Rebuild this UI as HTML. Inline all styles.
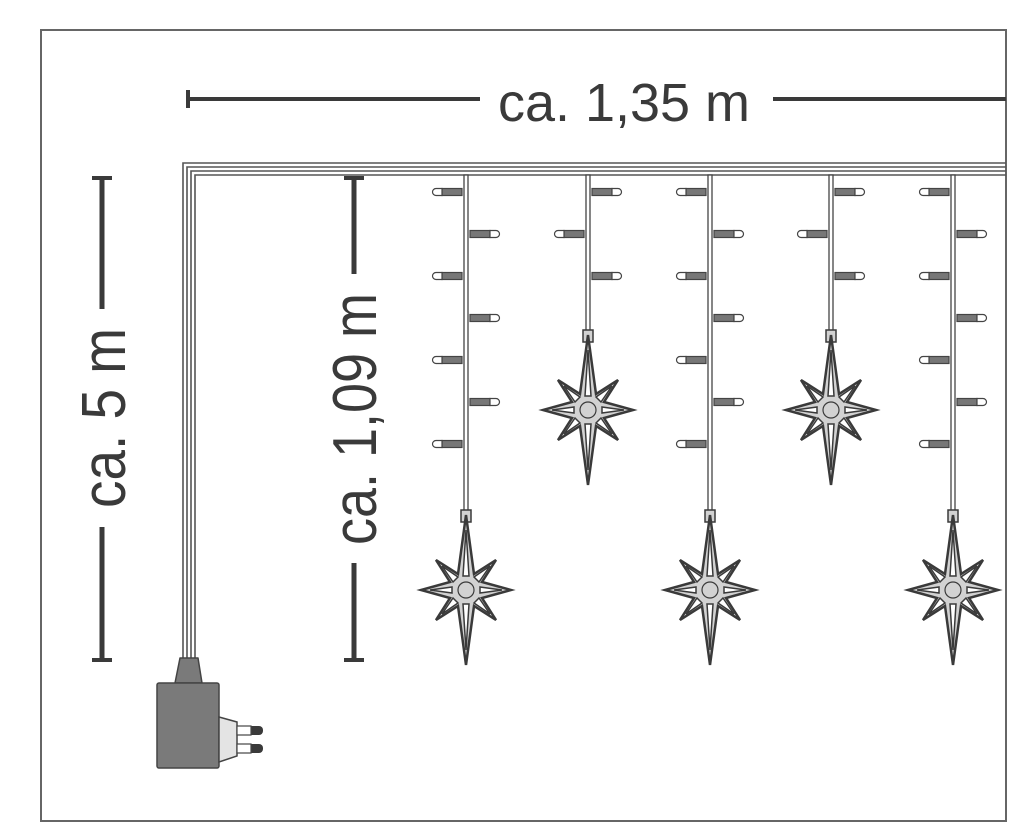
<!DOCTYPE html>
<html><head><meta charset="utf-8"><style>
html,body{margin:0;padding:0;background:#fff;}
svg{display:block;}
text{font-family:"Liberation Sans",sans-serif;fill:#3a3a3a;}
</style></head><body>
<svg width="1034" height="836" viewBox="0 0 1034 836" xmlns="http://www.w3.org/2000/svg">
<defs>
<g id="star">
  <rect x="-5" y="-80" width="10" height="12" fill="#d2d2d2" stroke="#3a3a3a" stroke-width="1.5"/>
  <polygon points="0,-75 8,-16 30,-30 16,-8 45,0 16,8 30,30 8,16 0,75 -8,16 -30,30 -16,8 -45,0 -16,-8 -30,-30 -8,-16" fill="#d2d2d2" stroke="#3a3a3a" stroke-width="2.5" stroke-linejoin="miter"/>
  <g fill="#fff" stroke="#3a3a3a" stroke-width="1.5">
    <polygon points="0,-60 3,-14 -3,-14"/>
    <polygon points="0,60 3,14 -3,14"/>
    <polygon points="-36,0 -14,3 -14,-3"/>
    <polygon points="36,0 14,3 14,-3"/>
    <polygon points="24,-24 8,-13 13,-8"/>
    <polygon points="-24,-24 -8,-13 -13,-8"/>
    <polygon points="24,24 8,13 13,8"/>
    <polygon points="-24,24 -8,13 -13,8"/>
  </g>
  <circle r="8" fill="#d2d2d2" stroke="#3a3a3a" stroke-width="1.2"/>
</g>
<g id="bR">
  <rect x="2" y="-3.5" width="20" height="7" fill="#777" stroke="#444" stroke-width="1.2"/>
  <path d="M22,-3.5 L28,-3.5 A3.5,3.5 0 0 1 28,3.5 L22,3.5 Z" fill="#fff" stroke="#444" stroke-width="1.2"/>
</g>
<g id="bL">
  <use href="#bR" transform="scale(-1,1)"/>
</g>
</defs>

<rect x="41" y="30" width="965" height="791" fill="none" stroke="#666" stroke-width="2"/>

<line x1="188" y1="99" x2="480" y2="99" stroke="#3a3a3a" stroke-width="4"/>
<line x1="188" y1="90" x2="188" y2="108" stroke="#3a3a3a" stroke-width="4"/>
<line x1="773" y1="99" x2="1006" y2="99" stroke="#3a3a3a" stroke-width="4"/>
<text x="498" y="121" font-size="54" textLength="252" lengthAdjust="spacingAndGlyphs">ca. 1,35 m</text>

<line x1="102" y1="178" x2="102" y2="309" stroke="#3a3a3a" stroke-width="5"/>
<line x1="102" y1="527" x2="102" y2="660" stroke="#3a3a3a" stroke-width="5"/>
<line x1="92" y1="178" x2="112" y2="178" stroke="#3a3a3a" stroke-width="4"/>
<line x1="92" y1="660" x2="112" y2="660" stroke="#3a3a3a" stroke-width="4"/>
<text transform="translate(125,508) rotate(-90)" font-size="62" textLength="180" lengthAdjust="spacingAndGlyphs">ca. 5 m</text>

<line x1="354" y1="178" x2="354" y2="274" stroke="#3a3a3a" stroke-width="5"/>
<line x1="354" y1="563" x2="354" y2="660" stroke="#3a3a3a" stroke-width="5"/>
<line x1="344" y1="178" x2="364" y2="178" stroke="#3a3a3a" stroke-width="4"/>
<line x1="344" y1="660" x2="364" y2="660" stroke="#3a3a3a" stroke-width="4"/>
<text transform="translate(376,545) rotate(-90)" font-size="62" textLength="252" lengthAdjust="spacingAndGlyphs">ca. 1,09 m</text>

<g fill="none" stroke="#555" stroke-width="1.6">
  <path d="M1006,163 H183 V660"/>
  <path d="M1006,167 H187 V660"/>
  <path d="M1006,171 H191 V660"/>
  <path d="M1006,175 H195 V660"/>
</g>

<g fill="#fff" stroke="#444" stroke-width="1.3">
  <rect x="464" y="175" width="4" height="345"/>
  <rect x="586" y="175" width="4" height="165"/>
  <rect x="708" y="175" width="4" height="345"/>
  <rect x="829" y="175" width="4" height="165"/>
  <rect x="951" y="175" width="4" height="345"/>
</g>

<g>
  <use href="#bL" x="464" y="192"/><use href="#bR" x="468" y="234"/><use href="#bL" x="464" y="276"/><use href="#bR" x="468" y="318"/><use href="#bL" x="464" y="360"/><use href="#bR" x="468" y="402"/><use href="#bL" x="464" y="444"/>
  <use href="#bL" x="708" y="192"/><use href="#bR" x="712" y="234"/><use href="#bL" x="708" y="276"/><use href="#bR" x="712" y="318"/><use href="#bL" x="708" y="360"/><use href="#bR" x="712" y="402"/><use href="#bL" x="708" y="444"/>
  <use href="#bL" x="951" y="192"/><use href="#bR" x="955" y="234"/><use href="#bL" x="951" y="276"/><use href="#bR" x="955" y="318"/><use href="#bL" x="951" y="360"/><use href="#bR" x="955" y="402"/><use href="#bL" x="951" y="444"/>
  <use href="#bR" x="590" y="192"/><use href="#bL" x="586" y="234"/><use href="#bR" x="590" y="276"/>
  <use href="#bR" x="833" y="192"/><use href="#bL" x="829" y="234"/><use href="#bR" x="833" y="276"/>
</g>

<use href="#star" x="466" y="590"/>
<use href="#star" x="588" y="410"/>
<use href="#star" x="710" y="590"/>
<use href="#star" x="831" y="410"/>
<use href="#star" x="953" y="590"/>

<polygon points="180,658 198,658 202,683 175,683" fill="#7a7a7a" stroke="#444" stroke-width="1.5" stroke-linejoin="round"/>
<rect x="157" y="683" width="62" height="85" rx="2" fill="#7a7a7a" stroke="#444" stroke-width="1.5"/>
<polygon points="219,717 237,722 237,756 219,762" fill="#e4e4e4" stroke="#444" stroke-width="1.5"/>
<rect x="237" y="726" width="26" height="9" rx="4" fill="#3a3a3a"/>
<rect x="237" y="726" width="14" height="9" fill="#fff" stroke="#444" stroke-width="1.2"/>
<rect x="237" y="744" width="26" height="9" rx="4" fill="#3a3a3a"/>
<rect x="237" y="744" width="14" height="9" fill="#fff" stroke="#444" stroke-width="1.2"/>
</svg>
</body></html>
